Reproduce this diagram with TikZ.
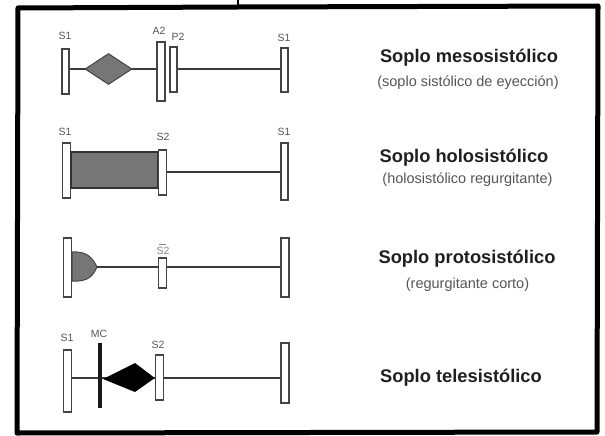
\documentclass[tikz,border=0pt]{standalone}
\usepackage{fontspec}
\setmainfont{Liberation Sans}
\usetikzlibrary{shapes.geometric}
\definecolor{barline}{HTML}{444444}
\definecolor{connline}{HTML}{3A3A3A}
\definecolor{lblgray}{HTML}{555555}
\definecolor{fillgray}{HTML}{767676}
\definecolor{subgray}{HTML}{555555}
\tikzset{
  bar/.style={draw=barline, fill=white, line width=1.4pt, inner sep=0pt, minimum width=7pt},
  conn/.style={draw=connline, line width=1.3pt},
  lbl/.style={text=lblgray, inner sep=0pt, font=\fontsize{10.5}{11}\selectfont},
  ttl/.style={text=black!88, inner sep=0pt, font=\fontsize{18.3}{20}\selectfont\bfseries},
  sub/.style={text=subgray, inner sep=0pt, font=\fontsize{14.5}{16}\selectfont},
}
\begin{document}
\begin{tikzpicture}[x=1pt,y=-1pt]
\useasboundingbox (0,0) rectangle (605,436);
% frame
\draw[line width=5pt, line join=round] (17,433) -- (18,8) -- (238,7) -- (598,6) -- (597,432) -- cycle;
\draw[line width=2pt] (238,0) -- (238,7);

% ---------- Row 1: mesosistolico ----------
\coordinate (r1c) at (0,69);
\node[bar, minimum height=45pt] (r1s1) at (65.5,71.5) {};
\node[bar, minimum width=8pt, minimum height=59pt] (r1a2) at (161,71.5) {};
\node[bar, minimum height=45pt] (r1p2) at (173.5,69.5) {};
\node[bar, minimum height=44pt] (r1s1b) at (284.5,70) {};
\draw[conn] (r1s1.east |- r1c) -- (r1a2.west |- r1c);
\draw[conn] (r1p2.east |- r1c) -- (r1s1b.west |- r1c);
\node[diamond, draw=barline, fill=fillgray, line width=1pt, inner sep=0pt,
      minimum width=47pt, minimum height=31pt] (r1dia) at (108.5,69) {};
\node[lbl] (l1a) at (65,36) {S1};
\node[lbl] (l1b) at (159,31) {A2};
\node[lbl] (l1c) at (178,37) {P2};
\node[lbl] (l1d) at (284,38) {S1};
\node[ttl] (t1) at (469,58) {Soplo mesosistólico};
\node[sub] (s1) at (468,83) {(soplo sistólico de eyección)};

% ---------- Row 2: holosistolico ----------
\coordinate (r2c) at (0,172);
\node[bar, minimum width=8pt, minimum height=55pt] (r2s1) at (66.5,170.5) {};
\node[draw=black!80, fill=fillgray, line width=1.2pt, inner sep=0pt,
      minimum width=87pt, minimum height=36pt] (r2box) at (114.5,170) {};
\node[bar, minimum width=8pt, minimum height=45pt] (r2s2) at (162.5,172.5) {};
\node[bar, minimum height=57pt] (r2s1b) at (284.5,171.5) {};
\draw[conn] (r2s2.east |- r2c) -- (r2s1b.west |- r2c);
\node[lbl] (l2a) at (65,132) {S1};
\node[lbl] (l2b) at (163,137) {S2};
\node[lbl] (l2c) at (284,132) {S1};
\node[ttl] (t2) at (464,158) {Soplo holosistólico};
\node[sub] (s2) at (467.5,180) {(holosistólico regurgitante)};

% ---------- Row 3: protosistolico ----------
\coordinate (r3c) at (0,267);
\node[bar, minimum width=8pt, minimum height=59pt] (r3s1) at (67.5,267.5) {};
\node[bar, minimum width=8pt, minimum height=30pt] (r3s2) at (162.5,273) {};
\node[bar, minimum width=8pt, minimum height=59pt] (r3s1b) at (285,267.5) {};
\coordinate (r3tip) at (97,267);
\draw[conn] (r3tip) -- (r3s2.west |- r3c);
\draw[conn] (r3s2.east |- r3c) -- (r3s1b.west |- r3c);
\filldraw[fill=fillgray, draw=barline, line width=1pt]
  (r3s1.east |- 0,252) .. controls (88,251) and (93,259) .. (r3tip) .. controls (93,276) and (88,282) .. (r3s1.east |- 0,281) -- cycle;
\node[lbl, text=lblgray!70] (l3a) at (163,251) {S2};
\draw[lblgray!70, line width=1pt] (159,244) -- (166,244);
\node[ttl] (t3) at (467,259) {Soplo protosistólico};
\node[sub] (s3) at (467.5,285) {(regurgitante corto)};

% ---------- Row 4: telesistolico ----------
\coordinate (r4c) at (0,378);
\node[bar, minimum width=8pt, minimum height=62pt] (r4s1) at (67.5,381) {};
\node[bar, minimum width=8pt, minimum height=45pt] (r4s2) at (159.5,377.5) {};
\node[bar, minimum width=8pt, minimum height=60pt] (r4s1b) at (285,373) {};
\draw[conn] (r4s1.east |- r4c) -- (r4s2.west |- r4c);
\draw[conn] (r4s2.east |- r4c) -- (r4s1b.west |- r4c);
\coordinate (mctop) at (99.5,343);
\coordinate (mcbot) at (99.5,408);
\draw[line width=4pt, black!90] (mctop) -- (mcbot);
\fill[black] (103,379) -- (135,363) -- (r4s2.west |- 0,378) -- (135,392) -- cycle;
\node[lbl] (l4a) at (67,338) {S1};
\node[lbl] (l4b) at (99,334) {MC};
\node[lbl] (l4c) at (158,345) {S2};
\node[ttl] (t4) at (461,378) {Soplo telesistólico};
\end{tikzpicture}
\end{document}
